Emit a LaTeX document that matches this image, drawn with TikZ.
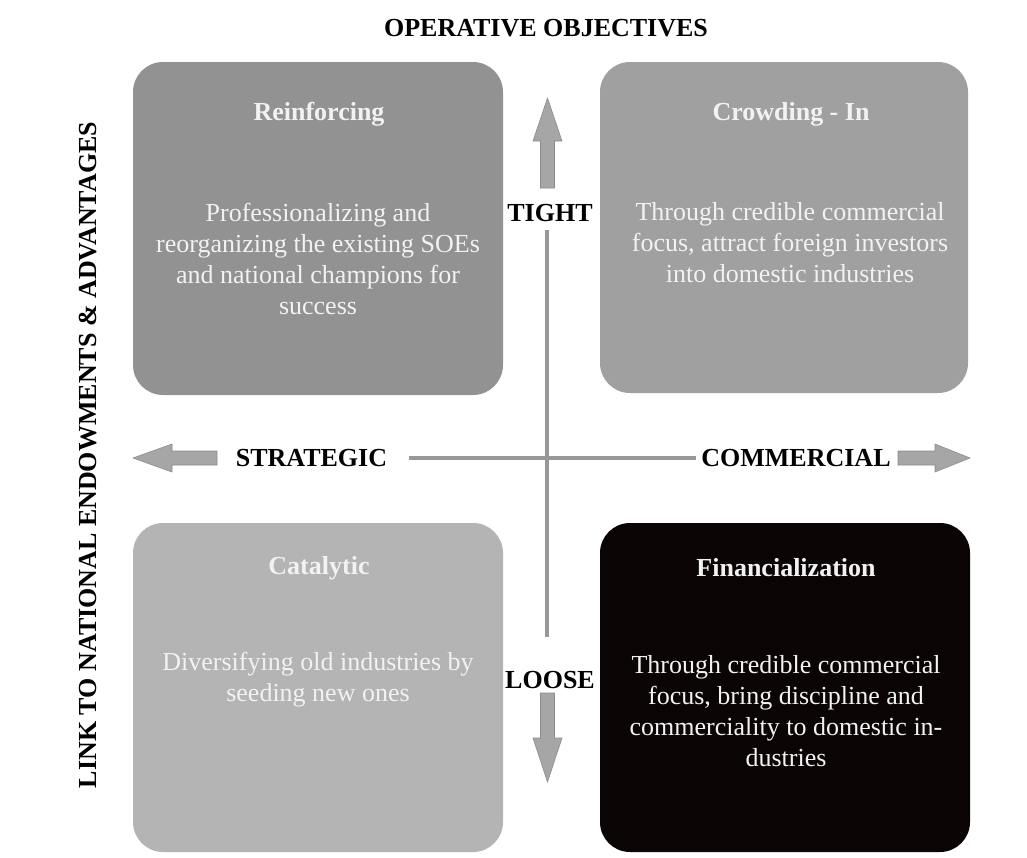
\documentclass[tikz,border=0pt]{standalone}
\usepackage{fontspec}
\setmainfont{Liberation Serif}
\definecolor{reinfgray}{RGB}{146,146,146}
\definecolor{crowdgray}{RGB}{160,160,160}
\definecolor{catalgray}{RGB}{180,180,180}
\definecolor{finanblack}{RGB}{10,4,5}
\definecolor{boxwhite}{RGB}{242,242,242}
\definecolor{axisgray}{RGB}{152,152,152}
\definecolor{arrowgray}{RGB}{166,166,166}
\definecolor{arrowedge}{RGB}{140,140,140}
\tikzset{
  quad/.style={rounded corners=30pt, inner sep=0pt},
  boxtitle/.style={text=boxwhite, font=\fontsize{26pt}{31pt}\selectfont\bfseries},
  boxtext/.style={text=boxwhite, align=center, font=\fontsize{26pt}{31pt}\selectfont},
  axislabel/.style={font=\fontsize{26pt}{31pt}\selectfont\bfseries, inner sep=5pt},
  axisline/.style={draw=axisgray, line width=4.5pt},
  blockarrow/.style={fill=arrowgray, draw=arrowedge, line width=0.6pt}
}
\begin{document}
\begin{tikzpicture}[x=1pt, y=-1pt]
\useasboundingbox [fill=white] (0, 0) rectangle (1027, 857);

% quadrants
\node (reinf) at (318, 228.5) [quad, fill=reinfgray, minimum width=370pt, minimum height=333pt] {};
\node (crowd) at (784, 227.5) [quad, fill=crowdgray, minimum width=368pt, minimum height=331pt] {};
\node (catal) at (318, 687.5) [quad, fill=catalgray, minimum width=370pt, minimum height=329pt] {};
\node (finan) at (785, 687.5) [quad, fill=finanblack, minimum width=370pt, minimum height=329pt] {};

\node (reinftitle) at (319, 114) [boxtitle] {Reinforcing};
\node (reinftext) at (318, 259) [boxtext] {Professionalizing and\\reorganizing the existing SOEs\\and national champions for\\success};
\node (crowdtitle) at (791, 114) [boxtitle] {Crowding - In};
\node (crowdtext) at (790, 242.5) [boxtext] {Through credible commercial\\focus, attract foreign investors\\into domestic industries};
\node (cataltitle) at (319, 568) [boxtitle] {Catalytic};
\node (catalktext) at (318, 679.5) [boxtext] {Diversifying old industries by\\seeding new ones};
\node (finantitle) at (786, 568) [boxtitle] {Financialization};
\node (finantext) at (786, 711.5) [boxtext] {Through credible commercial\\focus, bring discipline and\\commerciality to domestic in-\\dustries};

% outer labels
\node (operative) at (546, 28) [axislabel] {OPERATIVE OBJECTIVES};
\node (link) at (88, 455) [axislabel, rotate=90] {LINK TO NATIONAL ENDOWMENTS \& ADVANTAGES};

% axes
\node (strat) at (311.5, 458) [axislabel] {STRATEGIC};
\node (comm) at (796, 458) [axislabel] {COMMERCIAL};
\node (tight) at (550, 213) [axislabel] {TIGHT};
\node (loose) at (550, 680) [axislabel] {LOOSE};
\draw [axisline, shorten <=17pt] (strat) -- (comm);
\draw [axisline, shorten <=3pt, shorten >=29pt] ([xshift=-3pt]tight.south) -- ([xshift=-3pt]loose.north);

% block arrows
\coordinate (lefttip) at (133, 458);
\coordinate (righttip) at (970, 458);
\coordinate (uptip) at (547.5, 98);
\coordinate (downtip) at (547.5, 782);
\filldraw [blockarrow] (lefttip) -- ++(39, -14) -- ++(0, 7) -- ++(45, 0) -- ++(0, 14) -- ++(-45, 0) -- ++(0, 7) -- cycle;
\filldraw [blockarrow] (righttip) -- ++(-35, -14) -- ++(0, 7) -- ++(-37, 0) -- ++(0, 14) -- ++(37, 0) -- ++(0, 7) -- cycle;
\filldraw [blockarrow] (uptip) -- ++(14.5, 43) -- ++(-7.5, 0) -- ++(0, 47) -- ++(-14, 0) -- ++(0, -47) -- ++(-7.5, 0) -- cycle;
\filldraw [blockarrow] (downtip) -- ++(14.5, -44) -- ++(-7.5, 0) -- ++(0, -45) -- ++(-14, 0) -- ++(0, 45) -- ++(-7.5, 0) -- cycle;
\end{tikzpicture}
\end{document}
